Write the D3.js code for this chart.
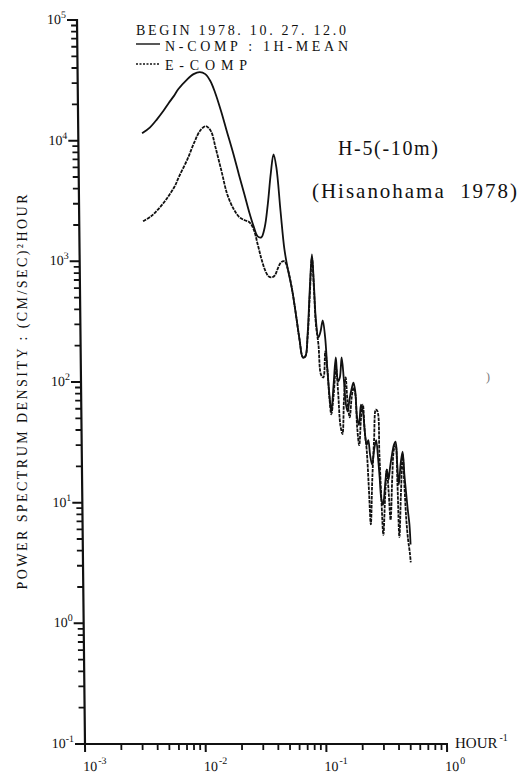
<!DOCTYPE html>
<html><head><meta charset="utf-8">
<script src="https://cdn.jsdelivr.net/npm/d3@7"></script>
<style>
html,body{margin:0;padding:0;background:#fff;}
svg{display:block;}
text{font-family:"Liberation Serif","DejaVu Serif",serif;fill:#111;white-space:pre;}
</style>
</head><body>
<svg id="c" width="523" height="775"></svg>
<script>
// frequency (HOUR^-1)
const freq = [0.00338, 0.00394, 0.00452, 0.00509, 0.00566, 0.00624, 0.00682,
  0.00798, 0.00914, 0.0103, 0.01144, 0.01257, 0.01368, 0.01532, 0.01694,
  0.01913, 0.0213, 0.0235, 0.02569, 0.02785, 0.03, 0.03216, 0.03438, 0.03666, 0.03903,
  0.04133, 0.04352, 0.0467, 0.04986, 0.05304, 0.0572, 0.06126, 0.06528, 0.06938, 0.0727,
  0.07623, 0.08023, 0.08421, 0.0869, 0.08954, 0.09357, 0.09765, 0.1021, 0.1065, 0.1104,
  0.1141, 0.1179, 0.1239, 0.13, 0.1348, 0.1398, 0.1453, 0.1508, 0.1562, 0.161,
  0.1674, 0.1743, 0.1811, 0.1872, 0.1926, 0.1995, 0.208, 0.2157, 0.2221, 0.2298,
  0.2375, 0.2448, 0.254, 0.2651, 0.2759, 0.2849, 0.2926, 0.3012, 0.3103, 0.3226,
  0.3358, 0.3463, 0.3574, 0.3721, 0.3862, 0.3994, 0.4105, 0.4211, 0.4391, 0.456,
  0.4693, 0.4824, 0.4973, 0.5116, 0.5205];
// power spectrum density, N component (solid)
const nComp = [11500, 12900, 15100, 17600, 20500, 23400, 26800,
  31800, 35600, 37000, 35600, 31200, 25300, 17600, 12200,
  7900, 5200, 3600, 2550, 1950, 1610, 1580, 1910, 2970, 5300,
  7700, 6000, 2600, 1260, 859, 586, 363, 225, 160, 163,
  248, 586, 1140, 645, 330, 234, 262, 324, 234, 127,
  79, 57, 95, 160, 101, 109, 160, 105, 65, 57,
  72, 87, 99, 83, 51, 44, 65, 57, 40, 30,
  33, 25, 20.7, 27.5, 33, 23.6, 16.1, 10.6, 9.6, 13.3,
  18.8, 15.5, 19.5, 25, 30, 32, 20.7, 14.1, 21.5, 26.5,
  17.1, 12.3, 8.7, 6.6, 4.5];
// power spectrum density, E component (dashed)
const eComp = [2150, 2360, 2700, 3100, 3600, 4200, 5100,
  7000, 9700, 12200, 13200, 12000, 8800, 5500, 3600,
  2700, 2320, 2190, 2110, 1840, 1380, 1040, 842, 751, 737,
  765, 859, 982, 1000, 859, 586, 363, 225, 160, 163,
  234, 532, 1080, 586, 300, 205, 115, 109, 179, 127,
  74, 54, 79, 132, 83, 44, 37, 74, 109, 69,
  51, 74, 90, 79, 42, 30, 51, 65, 39, 27.5,
  13.3, 6.6, 15.5, 33, 59, 57, 25, 10.6, 5.4, 10.6,
  18.8, 12.3, 7.2, 16.1, 27.5, 30, 14.1, 5.2, 12.8, 25,
  13.3, 7.2, 4.9, 3.9, 3.2];

const xTickExps = [-3, -2, -1, 0];
const yTickExps = [-1, 0, 1, 2, 3, 4, 5];
const legendTitle = "BEGIN 1978. 10. 27. 12.0";
const seriesNames = ["N-COMP : 1H-MEAN", "E-COMP"];
const stationLabel = "H-5(-10m)";
const placeLabel = "(Hisanohama  1978)";
const yTitle = "POWER SPECTRUM DENSITY : (CM/SEC)\u00B2HOUR";
const xUnit = "HOUR";

const svg = d3.select("#c");
const x = d3.scaleLog().domain([1e-3, 1]).range([85, 447]);
const y = d3.scaleLog().domain([1e-1, 1e5]).range([744, 20]);

// slight skew as in the scanned original
const skew = "translate(0,744) skewX(0.633) translate(0,-744)";
const g = svg.append("g").attr("transform", skew);

const isMajor = v => Math.abs(Math.log10(v) - Math.round(Math.log10(v))) < 1e-6;
const yMajor = yTickExps.map(e => Math.pow(10, e));
const yMinor = y.ticks().filter(v => !isMajor(v));
const xMajor = xTickExps.map(e => Math.pow(10, e));
const xMinor = x.ticks().filter(v => !isMajor(v));

const ink = "#111";
const x0 = x(1e-3), yB = y(1e-1);
const tk = g.append("g").attr("fill", ink);
tk.selectAll(".ymin").data(yMinor).join("rect").attr("class", "ymin")
  .attr("x", x0 - 6).attr("y", d => y(d) - 0.9).attr("width", 6).attr("height", 1.8);
tk.selectAll(".ymaj").data(yMajor).join("rect").attr("class", "ymaj")
  .attr("x", x0 - 10).attr("y", d => y(d) - 1).attr("width", 10).attr("height", 2);
tk.selectAll(".xmin").data(xMinor).join("rect").attr("class", "xmin")
  .attr("x", d => x(d) - 0.9).attr("y", yB).attr("width", 1.8).attr("height", 6);
tk.selectAll(".xmaj").data(xMajor).join("rect").attr("class", "xmaj")
  .attr("x", d => x(d) - 1).attr("y", yB).attr("width", 2).attr("height", 8);
// axis lines
g.append("path")
  .attr("d", `M${x0},${y(1e5) - 1}V${yB}H${x(1) + 1}`)
  .attr("fill", "none").attr("stroke", ink).attr("stroke-width", 2.2);

// tick labels
yTickExps.forEach(e => {
  const t = g.append("text").attr("x", x0 - 11).attr("y", y(Math.pow(10, e)) + 4)
    .attr("text-anchor", "end").attr("font-size", 14);
  t.append("tspan").text("10");
  t.append("tspan").attr("font-size", 10).attr("dy", -6).text(e < 0 ? "-" + (-e) : String(e));
});
xTickExps.forEach(e => {
  const t = g.append("text").attr("x", x(Math.pow(10, e)) - 2).attr("y", 771)
    .attr("text-anchor", "start").attr("font-size", 14);
  t.append("tspan").text("10");
  t.append("tspan").attr("font-size", 10).attr("dy", -7).attr("dx", 1).text(e < 0 ? "-" + (-e) : String(e));
});

// curves
const line = d3.line().x((d, i) => x(freq[i])).y(d => y(d)).curve(d3.curveCatmullRom.alpha(0.5));
g.append("path").attr("d", line(eComp)).attr("fill", "none").attr("stroke", ink)
  .attr("stroke-width", 1.8).attr("stroke-dasharray", "3.5,1");
g.append("path").attr("d", line(nComp)).attr("fill", "none").attr("stroke", ink)
  .attr("stroke-width", 1.8);

// legend
svg.append("text").attr("x", 136).attr("y", 34.5).attr("font-size", 14).attr("textLength", 210).text(legendTitle);
svg.append("line").attr("x1", 136).attr("x2", 160).attr("y1", 44).attr("y2", 44).attr("stroke", ink).attr("stroke-width", 1.4);
svg.append("text").attr("x", 165).attr("y", 50.5).attr("font-size", 14).attr("textLength", 183).text(seriesNames[0]);
svg.append("line").attr("x1", 136).attr("x2", 160).attr("y1", 64).attr("y2", 64).attr("stroke", ink).attr("stroke-width", 1.4).attr("stroke-dasharray", "2,1.5");
svg.append("text").attr("x", 165).attr("y", 69.5).attr("font-size", 14).attr("textLength", 82).text(seriesNames[1]);

// annotations
svg.append("text").attr("x", 338).attr("y", 155).attr("font-size", 20).attr("textLength", 100).text(stationLabel);
svg.append("text").attr("x", 312).attr("y", 198).attr("font-size", 21).attr("textLength", 205).text(placeLabel);
svg.append("text").attr("x", 486).attr("y", 381).attr("font-size", 12).style("fill", "#777").text(")");

// axis titles
svg.append("text").attr("transform", "translate(27,392) rotate(-90)").attr("text-anchor", "middle")
  .attr("font-size", 14).attr("textLength", 395).text(yTitle);
const xu = svg.append("text").attr("x", 455).attr("y", 748).attr("font-size", 15);
xu.append("tspan").text(xUnit);
xu.append("tspan").attr("font-size", 10).attr("dy", -7).attr("dx", 2).text("-1");
</script>
</body></html>
